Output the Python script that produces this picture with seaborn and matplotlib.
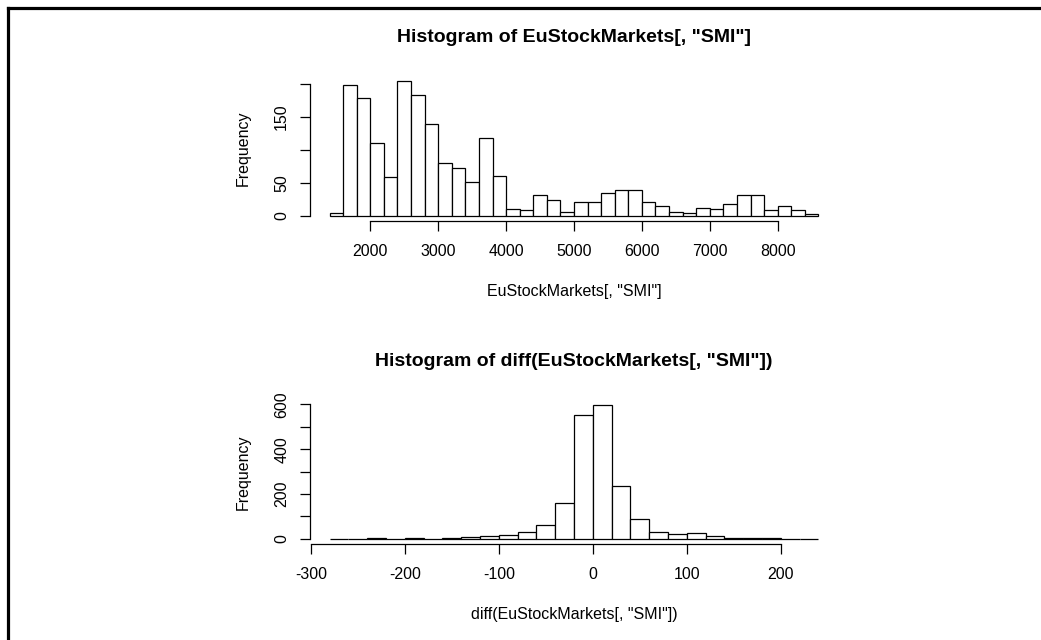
import numpy as np
import pandas as pd
import matplotlib
matplotlib.use("Agg")
import matplotlib.pyplot as plt
from matplotlib.lines import Line2D
import seaborn as sns

# Swiss SMI index: histogram bin edges and counts
smi_edges = list(range(1400, 8601, 200))
smi_counts = [4, 199, 179, 111, 58, 205, 183, 139, 80, 72, 51, 118, 60, 10,
              8, 32, 23, 6, 20, 21, 35, 39, 39, 20, 15, 5, 4, 12, 10, 18,
              32, 32, 8, 14, 8, 2]
smi_xticks = [2000, 3000, 4000, 5000, 6000, 7000, 8000]
smi_yticks = [0, 50, 100, 150, 200]
smi_ylabels = ["0", "50", "", "150", ""]

# Daily differences of the SMI index
diff_edges = list(range(-280, 241, 20))
diff_counts = [1, 1, 3, 1, 3, 1, 6, 7, 13, 18, 29, 61, 159, 553, 598, 237,
               87, 31, 20, 27, 12, 6, 5, 2, 0, 1]
diff_xticks = [-300, -200, -100, 0, 100, 200]
diff_yticks = [0, 100, 200, 300, 400, 500, 600]
diff_ylabels = ["0", "", "200", "", "400", "", "600"]

W, H = 1041, 640
sns.set_theme(style="white")
plt.rcParams["font.family"] = ["Liberation Sans", "DejaVu Sans"]

fig = plt.figure(figsize=(W / 100, H / 100), dpi=100)
fig.patch.set_facecolor("white")

FS = 11.5
TICK_LEN = 7.0


def px_axes(left, top, right, bottom):
    return fig.add_axes([left / W, 1 - bottom / H, (right - left) / W, (bottom - top) / H])


def draw_hist(ax, edges, counts, xticks, yticks, ylabels, title, xlabel, height_px):
    e = np.asarray(edges, dtype=float)
    df = pd.DataFrame({"value": (e[:-1] + e[1:]) / 2, "count": counts})
    sns.histplot(data=df, x="value", weights="count", bins=list(edges), ax=ax,
                 stat="count", element="bars", fill=True, color="white",
                 edgecolor="black", linewidth=0.9, alpha=1.0)
    ymax = max(counts)
    span = e[-1] - e[0]
    ax.set_xlim(e[0] - 0.04 * span, e[-1] + 0.04 * span)
    ax.set_ylim(-0.04 * ymax, ymax * 1.04)
    ax.set_facecolor("white")
    for s in ["top", "right"]:
        ax.spines[s].set_visible(False)
    for s in ["left", "bottom"]:
        ax.spines[s].set_color("black")
        ax.spines[s].set_linewidth(0.9)
    ax.spines["left"].set_bounds(yticks[0], yticks[-1])
    ax.spines["bottom"].set_bounds(xticks[0], xticks[-1])

    ax.set_xticks(xticks)
    ax.set_xticklabels([str(t) for t in xticks])
    ax.set_yticks(yticks)
    ax.set_yticklabels(ylabels)
    ax.tick_params(axis="both", which="both", direction="out", length=TICK_LEN,
                   width=0.9, color="black", labelsize=FS, labelcolor="black",
                   bottom=True, left=True)
    ax.tick_params(axis="x", pad=14.8)
    ax.tick_params(axis="y", pad=13.4)
    for lab in ax.get_xticklabels():
        lab.set_va("center")
    for lab in ax.get_yticklabels():
        lab.set_rotation(90)
        lab.set_va("center")
        lab.set_ha("center")

    ax.set_title(title, fontsize=14.0, fontweight="bold", color="black",
                 y=1 + 38 / height_px, va="center", pad=0)
    ax.set_xlabel(xlabel, fontsize=FS, color="black", va="center")
    ax.xaxis.set_label_coords(0.5, -70.5 / height_px)
    ax.set_ylabel("Frequency", fontsize=FS, color="black", va="center")
    ax.yaxis.set_label_coords(-67 / 528, 0.5)
    ax.grid(False)


ax1 = px_axes(310, 75.4, 838, 221)
draw_hist(ax1, smi_edges, smi_counts, smi_xticks, smi_yticks, smi_ylabels,
          'Histogram of EuStockMarkets[, "SMI"]', 'EuStockMarkets[, "SMI"]', 145.6)

ax2 = px_axes(310, 399.4, 838, 544.3)
draw_hist(ax2, diff_edges, diff_counts, diff_xticks, diff_yticks, diff_ylabels,
          'Histogram of diff(EuStockMarkets[, "SMI"])', 'diff(EuStockMarkets[, "SMI"])', 144.9)

# page frame along the left and top edges
fig.add_artist(Line2D([7.8 / W, 7.8 / W], [0, 1 - 7.8 / H], transform=fig.transFigure,
                      color="black", linewidth=2.3, solid_capstyle="projecting"))
fig.add_artist(Line2D([7.8 / W, 1], [1 - 7.8 / H, 1 - 7.8 / H], transform=fig.transFigure,
                      color="black", linewidth=2.3, solid_capstyle="projecting"))

fig.savefig("out.png", dpi=100, facecolor="white")
